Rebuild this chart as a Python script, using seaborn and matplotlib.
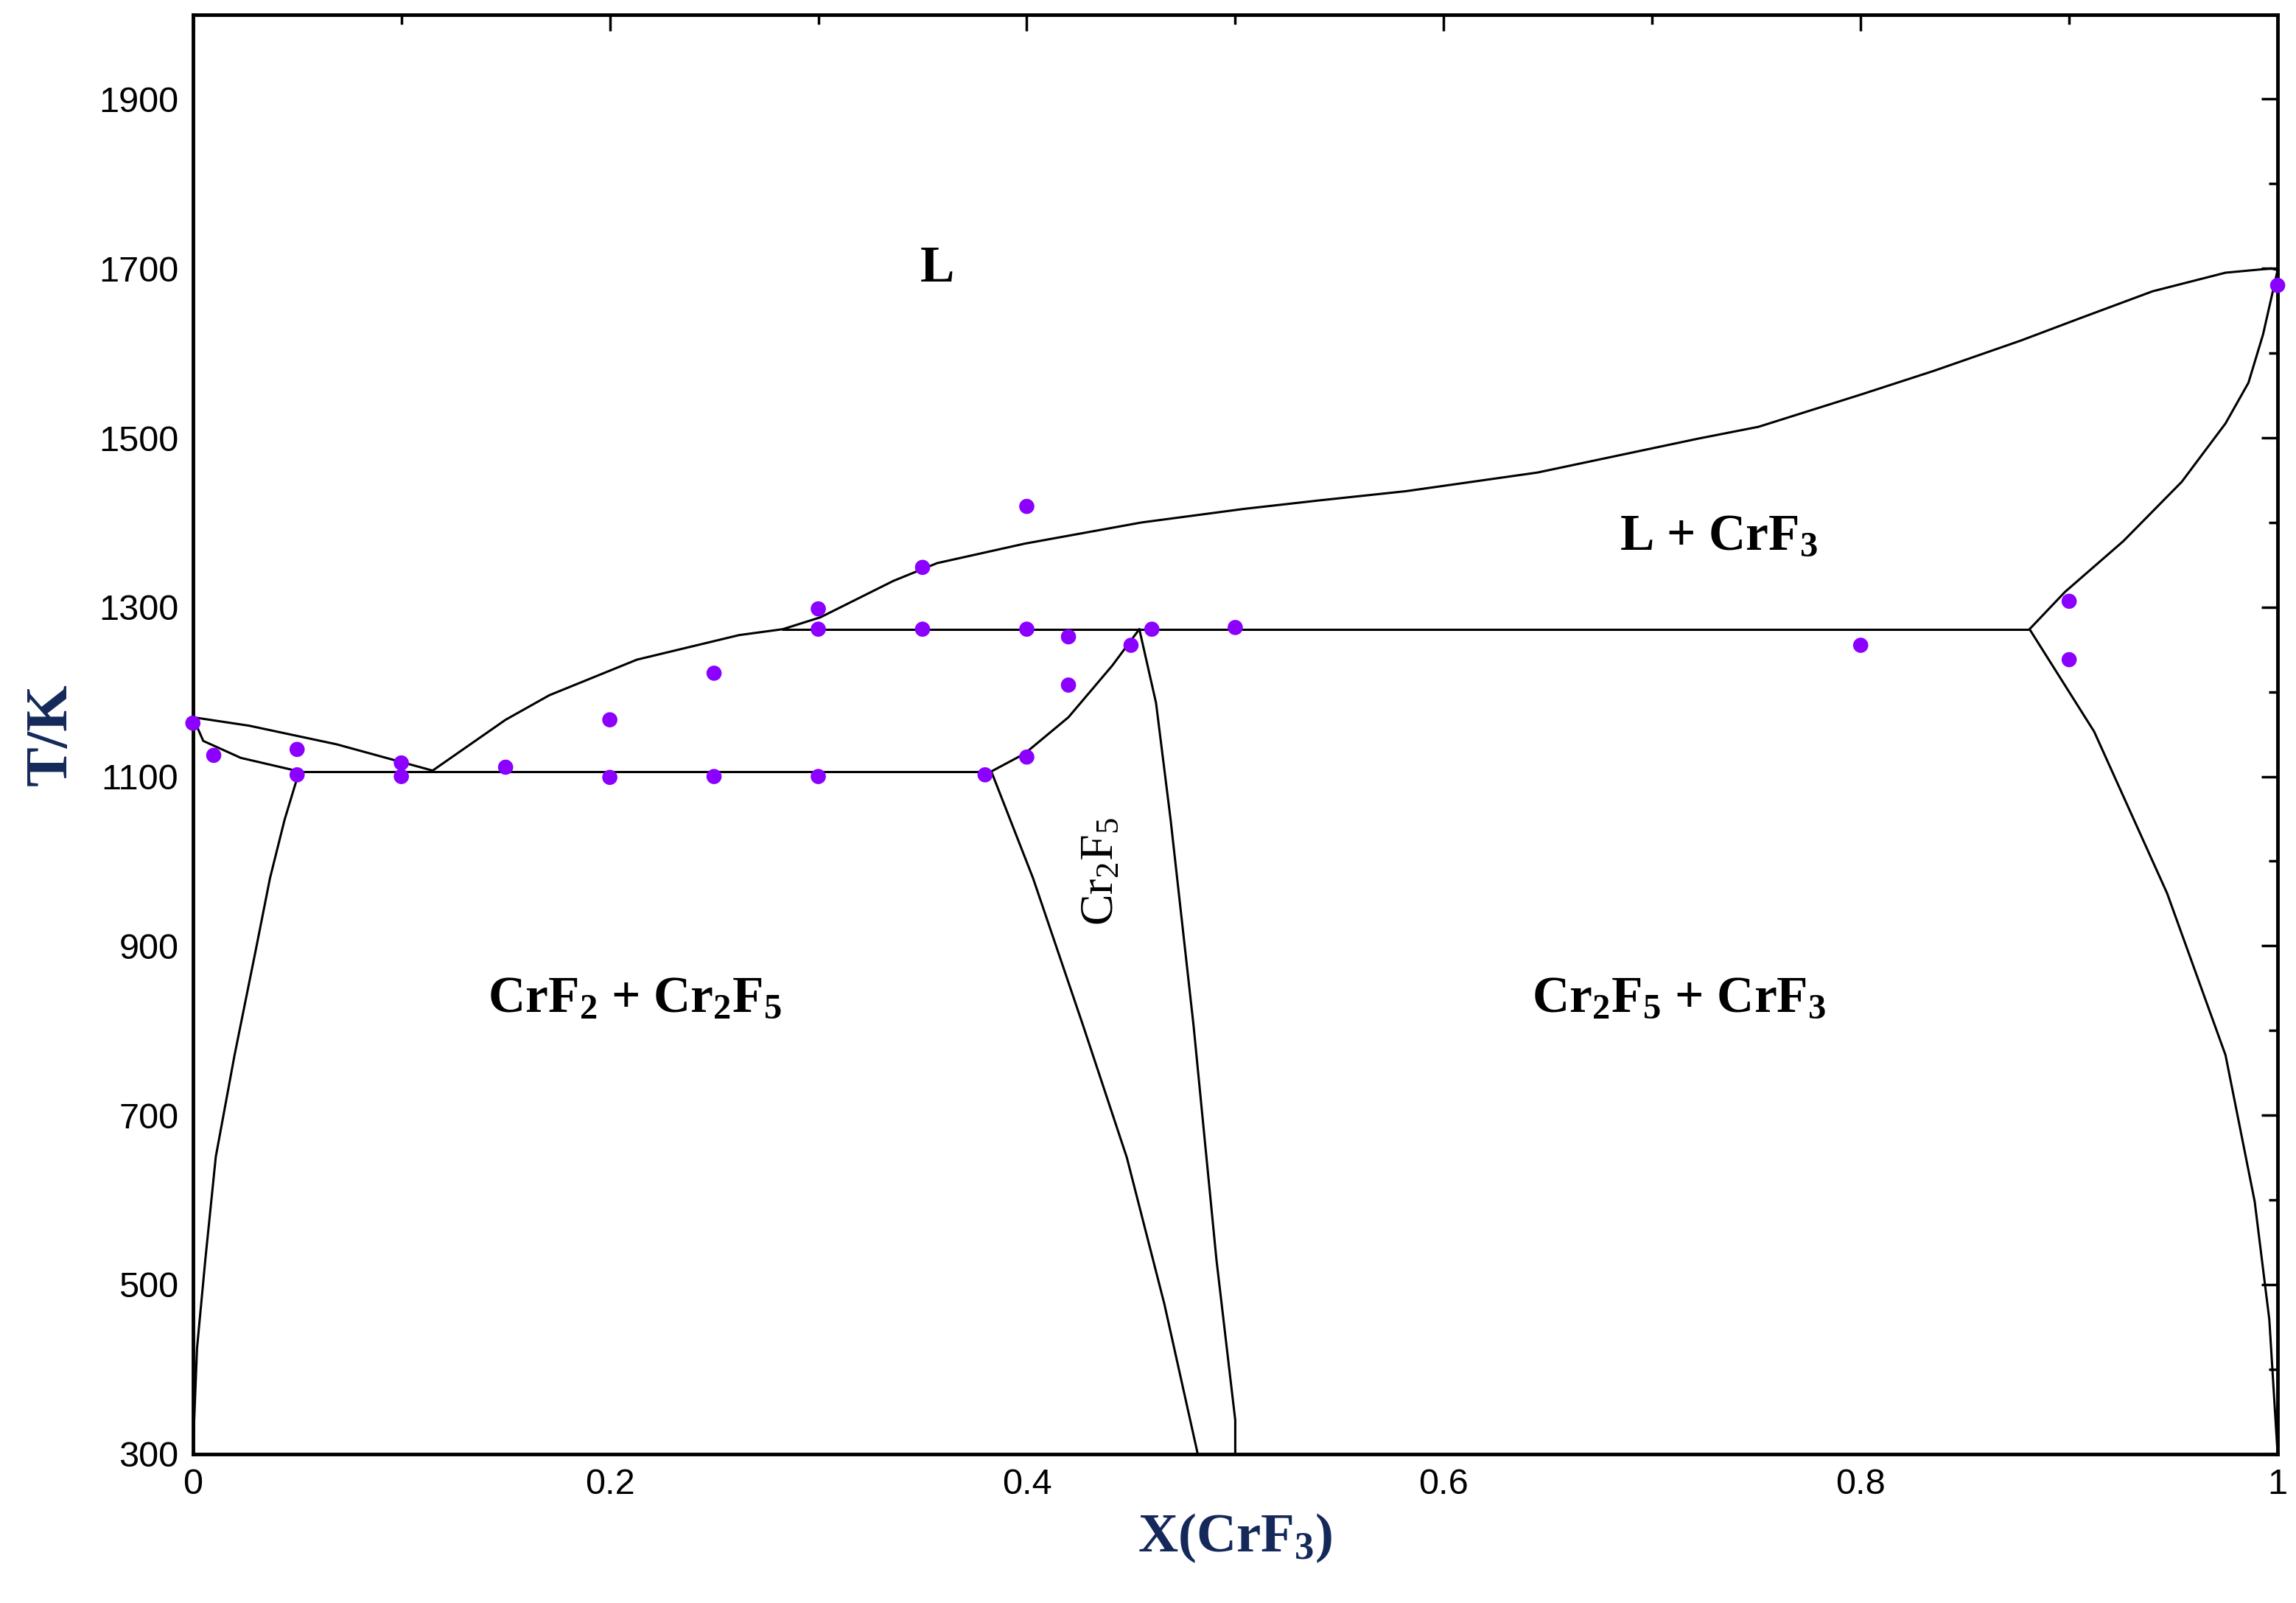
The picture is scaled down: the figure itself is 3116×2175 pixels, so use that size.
import numpy as np
import matplotlib
matplotlib.use("Agg")
import matplotlib.pyplot as plt
import seaborn as sns
from matplotlib.ticker import MultipleLocator, FixedLocator

# experimental points
exp_x = [0, 0.01, 0.05, 0.05, 0.1, 0.1, 0.15, 0.2, 0.2, 0.25, 0.25, 0.3, 0.3, 0.3,
         0.35, 0.35, 0.38, 0.4, 0.4, 0.4, 0.42, 0.42, 0.45, 0.46, 0.5, 0.8, 0.9, 0.9, 1.0]
exp_t = [1163, 1125, 1132, 1102, 1116, 1100, 1111, 1167, 1099, 1222, 1100, 1298, 1274, 1100,
         1347, 1274, 1102, 1419, 1274, 1123, 1265, 1208, 1255, 1274, 1276, 1255, 1307, 1238, 1680]

# calculated phase boundaries
liq_left_x = [0, 0.027, 0.069, 0.115]
liq_left_t = [1170, 1160, 1138, 1107]
sol_left_x = [0, 0.005, 0.023, 0.051]
sol_left_t = [1170, 1142, 1122, 1106]
liq_x = [0.115, 0.150, 0.171, 0.213, 0.262, 0.283, 0.301, 0.336, 0.357, 0.399, 0.455, 0.504,
         0.540, 0.582, 0.645, 0.722, 0.751, 0.800, 0.835, 0.877, 0.905, 0.940, 0.975, 0.997, 1.0]
liq_t = [1107, 1167, 1196, 1238, 1267, 1274, 1288, 1331, 1352, 1375, 1400, 1416,
         1426, 1437, 1459, 1499, 1513, 1551, 1579, 1615, 1641, 1673, 1695, 1700, 1698]
sol_right_x = [1.0, 0.993, 0.986, 0.975, 0.954, 0.926, 0.898, 0.881]
sol_right_t = [1698, 1622, 1565, 1517, 1448, 1378, 1318, 1274]
perit_x = [0.283, 0.881]
perit_t = [1274, 1274]
eut_x = [0.051, 0.383]
eut_t = [1106, 1106]
crf2_solvus_x = [0.051, 0.044, 0.037, 0.030, 0.020, 0.011, 0.006, 0.002, 0.0]
crf2_solvus_t = [1106, 1049, 980, 893, 771, 651, 530, 425, 300]
cr2f5_up_x = [0.383, 0.399, 0.420, 0.441, 0.454]
cr2f5_up_t = [1106, 1127, 1170, 1231, 1274]
cr2f5_left_x = [0.383, 0.403, 0.427, 0.448, 0.466, 0.482]
cr2f5_left_t = [1106, 980, 806, 650, 477, 300]
cr2f5_right_x = [0.454, 0.462, 0.469, 0.480, 0.491, 0.5, 0.5]
cr2f5_right_t = [1274, 1187, 1049, 806, 529, 340, 300]
crf3_solvus_x = [0.881, 0.912, 0.947, 0.975, 0.989, 0.996, 1.0]
crf3_solvus_t = [1274, 1153, 962, 771, 598, 459, 300]

sns.set_theme(style="white")
plt.rcParams['font.family'] = ['Liberation Sans', 'DejaVu Sans']
plt.rcParams['text.color'] = 'black'
plt.rcParams['xtick.color'] = 'black'
plt.rcParams['ytick.color'] = 'black'
plt.rcParams['mathtext.fontset'] = 'custom'
plt.rcParams['mathtext.rm'] = 'Liberation Serif'
plt.rcParams['mathtext.it'] = 'Liberation Serif:italic'
plt.rcParams['mathtext.bf'] = 'Liberation Serif:bold'

fig = plt.figure(figsize=(31.16, 21.75), dpi=100)
ax = fig.add_axes([0.084, 0.093, 0.908, 0.898])

lines = [(liq_left_x, liq_left_t), (sol_left_x, sol_left_t), (liq_x, liq_t),
         (sol_right_x, sol_right_t), (perit_x, perit_t), (eut_x, eut_t),
         (crf2_solvus_x, crf2_solvus_t), (cr2f5_up_x, cr2f5_up_t),
         (cr2f5_left_x, cr2f5_left_t), (cr2f5_right_x, cr2f5_right_t),
         (crf3_solvus_x, crf3_solvus_t)]
for lx, lt in lines:
    ax.plot(lx, lt, color='black', lw=2.2)

sns.scatterplot(x=exp_x, y=exp_t, ax=ax, color='#8B00FF', s=220, edgecolor='none',
                zorder=5, clip_on=False)

ax.set_xlim(0, 1)
ax.set_ylim(300, 2000)
ax.xaxis.set_major_locator(MultipleLocator(0.2))
ax.xaxis.set_minor_locator(MultipleLocator(0.1))
ax.yaxis.set_major_locator(FixedLocator(np.arange(300, 2000, 200)))
ax.yaxis.set_minor_locator(MultipleLocator(100))
ax.xaxis.set_major_formatter(plt.FuncFormatter(lambda v, p: f"{v:g}"))
ax.tick_params(which='both', direction='in', top=True, right=True, width=2.5)
ax.tick_params(which='major', length=16, labelsize=35, pad=14)
ax.tick_params(which='minor', length=9)
for s in ax.spines.values():
    s.set_linewidth(3.5)
    s.set_color('black')

serif = ['Liberation Serif', 'DejaVu Serif']
navy = '#14285a'
ax.set_xlabel(r'X(CrF$_\mathbf{3}$)', fontsize=54, fontweight='bold', family=serif,
              color=navy, labelpad=10)
ax.set_ylabel('T/K', fontsize=58, fontweight='bold', family=serif, color=navy, labelpad=20)

kw = dict(fontsize=50, fontweight='bold', family=serif, ha='center', va='center', color='black')
ax.text(0.357, 1699, 'L', **kw)
ax.text(0.732, 1383, r'L + CrF$_\mathbf{3}$', **kw)
ax.text(0.212, 837, r'CrF$_\mathbf{2}$ + Cr$_\mathbf{2}$F$_\mathbf{5}$', **kw)
ax.text(0.713, 837, r'Cr$_\mathbf{2}$F$_\mathbf{5}$ + CrF$_\mathbf{3}$', **kw)
ax.text(0.436, 988, r'Cr$_\mathrm{2}$F$_\mathrm{5}$', fontsize=46, family=serif,
        rotation=90, ha='center', va='center', color='black')

fig.savefig('out.png', dpi=100)
